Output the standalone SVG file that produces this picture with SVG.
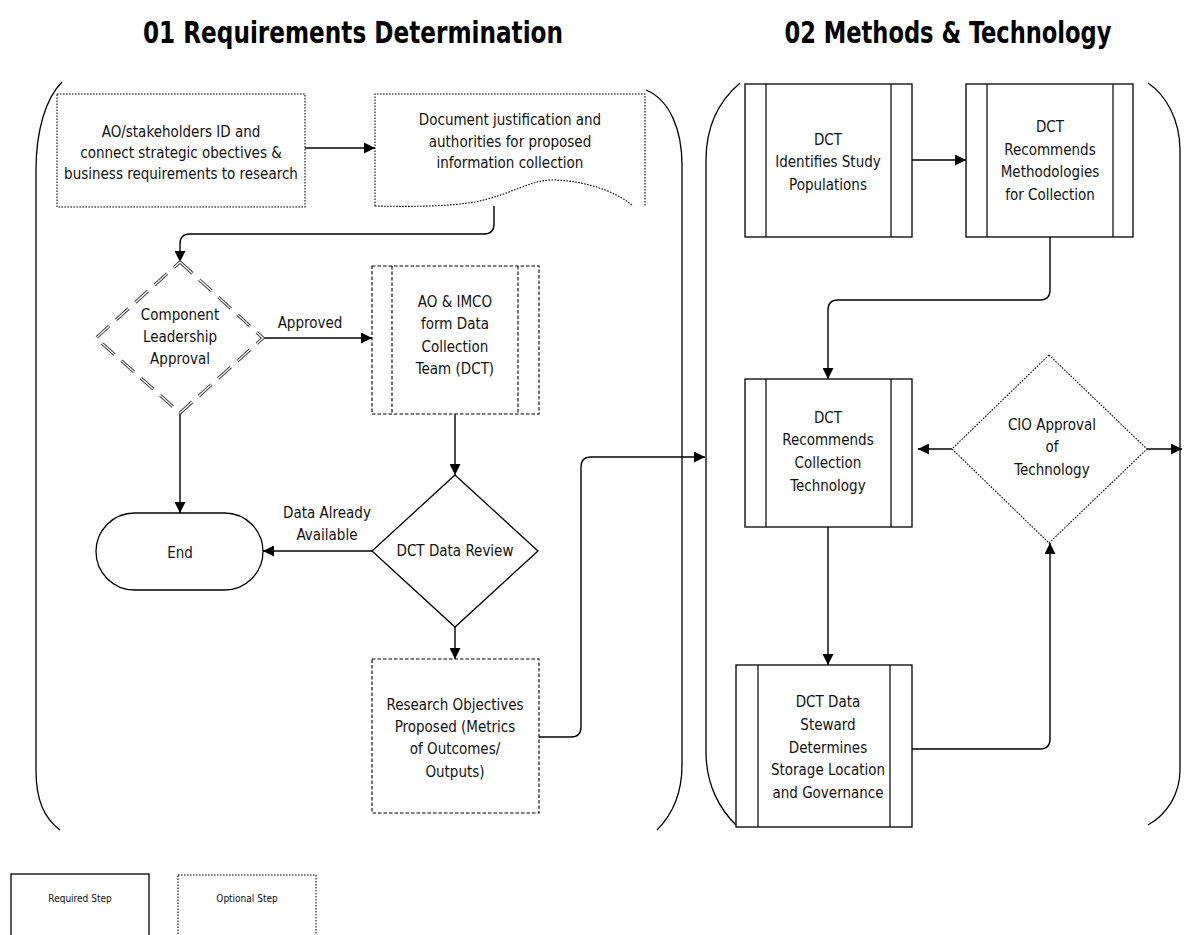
<svg xmlns="http://www.w3.org/2000/svg" width="1184" height="935" viewBox="0 0 1184 935">
<style>
.t{font-family:"Liberation Sans Narrow","DejaVu Sans Condensed","Liberation Sans",sans-serif;font-size:15px;text-anchor:middle;fill:#111}
.h{font-weight:bold;font-size:30px;fill:#000}
.lg{font-size:10px}
.solid{fill:#fff;stroke:#000;stroke-width:1.3}
.dot{fill:#fff;stroke:#000;stroke-width:1.1;stroke-dasharray:1.6 1.4}
.dash{fill:#fff;stroke:#000;stroke-width:1.1;stroke-dasharray:3.5 2}
.ln{fill:none;stroke:#000;stroke-width:1.2}
.conn{fill:none;stroke:#000;stroke-width:1.4}
.br{fill:none;stroke:#000;stroke-width:1.3}
</style>
<defs>
<marker id="ah" viewBox="0 0 10 10" refX="10" refY="5" markerWidth="11" markerHeight="11" markerUnits="userSpaceOnUse" orient="auto">
<path d="M0,0 L10,5 L0,10 z" fill="#000"/>
</marker>
</defs>

<g id="titles">
<text class="t h" x="353" y="43" textLength="420" lengthAdjust="spacingAndGlyphs">01 Requirements Determination</text>
<text class="t h" x="948" y="43" textLength="327" lengthAdjust="spacingAndGlyphs">02 Methods &amp; Technology</text>
</g>

<g id="panels">
<path class="br" d="M62,82 C46,98 36,130 36,170 V770 C36,800 44,818 60,830"/>
<path class="br" d="M646,90 C670,100 682,130 682,165 V765 C682,795 672,815 657,830"/>
<path class="br" d="M740,83 C720,100 706,125 706,160 V752 C706,785 720,810 737,826"/>
<path class="br" d="M1148,83 C1166,95 1180,120 1180,150 V770 C1180,795 1166,815 1148,825"/>
</g>

<g id="connectors">
<path class="conn" d="M305,148 H375" marker-end="url(#ah)"/>
<path class="conn" d="M494,198 V224 Q494,234 484,234 H190 Q180,234 180,244 V262" marker-end="url(#ah)"/>
<path class="conn" d="M263,338 H372" marker-end="url(#ah)"/>
<path class="conn" d="M180,413 V513" marker-end="url(#ah)"/>
<path class="conn" d="M455,414 V475" marker-end="url(#ah)"/>
<path class="conn" d="M372,551 H263" marker-end="url(#ah)"/>
<path class="conn" d="M455,627 V659" marker-end="url(#ah)"/>
<path class="conn" d="M539,737 H571 Q581,737 581,727 V467 Q581,457 591,457 H705" marker-end="url(#ah)"/>
<path class="conn" d="M912,160 H966" marker-end="url(#ah)"/>
<path class="conn" d="M1050,237 V290 Q1050,300 1040,300 H838 Q828,300 828,310 V379" marker-end="url(#ah)"/>
<path class="conn" d="M952,449 H918" marker-end="url(#ah)"/>
<path class="conn" d="M1147,449 H1182" marker-end="url(#ah)"/>
<path class="conn" d="M828,527 V665" marker-end="url(#ah)"/>
<path class="conn" d="M912,749 H1040 Q1050,749 1050,739 V543" marker-end="url(#ah)"/>
<text class="t" x="310" y="328">Approved</text>
<text class="t" x="327" y="518">Data Already</text>
<text class="t" x="327" y="540">Available</text>
</g>

<g id="n-ao-stakeholders">
<rect class="dot" x="57" y="94" width="248" height="113"/>
<text class="t" x="181" y="137">AO/stakeholders ID and</text>
<text class="t" x="181" y="158">connect strategic obectives &amp;</text>
<text class="t" x="181" y="179">business requirements to research</text>
</g>

<g id="n-document">
<path d="M375,94 H645 V206 H633 C615,190 580,180 552,180 C530,180 510,195 475,202 C450,206 420,207 375,206 Z" fill="#fff" stroke="none"/>
<path class="dot" d="M375,206 V94 H645 V206" fill="none"/>
<path class="dot" d="M375,206 C420,207 450,206 475,202 C510,195 530,180 552,180 C580,180 615,190 633,206" fill="none"/>
<text class="t" x="510" y="125">Document justification and</text>
<text class="t" x="510" y="147">authorities for proposed</text>
<text class="t" x="510" y="168">information collection</text>
</g>

<g id="n-leadership">
<polygon points="180,262 263,338 180,413 96,338" fill="#fff" stroke="#444" stroke-width="3.2" stroke-dasharray="17 9"/>
<polygon points="180,262 263,338 180,413 96,338" fill="none" stroke="#fff" stroke-width="1.2" stroke-dasharray="17 9"/>
<text class="t" x="180" y="320">Component</text>
<text class="t" x="180" y="342">Leadership</text>
<text class="t" x="180" y="364">Approval</text>
</g>

<g id="n-ao-imco">
<rect class="dash" x="372" y="266" width="167" height="148"/>
<path class="dash" d="M392,266 V414 M518,266 V414" fill="none"/>
<text class="t" x="455" y="307">AO &amp; IMCO</text>
<text class="t" x="455" y="329">form Data</text>
<text class="t" x="455" y="352">Collection</text>
<text class="t" x="455" y="374">Team (DCT)</text>
</g>

<g id="n-end">
<rect class="solid" x="96" y="513" width="167" height="77" rx="38.5"/>
<text class="t" x="180" y="558">End</text>
</g>

<g id="n-data-review">
<polygon class="solid" points="455,475 538,551 455,627 372,551"/>
<text class="t" x="455" y="556">DCT Data Review</text>
</g>

<g id="n-research">
<rect class="dash" x="372" y="659" width="167" height="154"/>
<text class="t" x="455" y="710">Research Objectives</text>
<text class="t" x="455" y="732">Proposed (Metrics</text>
<text class="t" x="455" y="754">of Outcomes/</text>
<text class="t" x="455" y="777">Outputs)</text>
</g>

<g id="n-study-pop">
<rect class="solid" x="745" y="84" width="167" height="153"/>
<path class="ln" d="M766,84 V237 M891,84 V237"/>
<text class="t" x="828" y="145">DCT</text>
<text class="t" x="828" y="167">Identifies Study</text>
<text class="t" x="828" y="190">Populations</text>
</g>

<g id="n-methodologies">
<rect class="solid" x="966" y="84" width="167" height="153"/>
<path class="ln" d="M987,84 V237 M1113,84 V237"/>
<text class="t" x="1050" y="132">DCT</text>
<text class="t" x="1050" y="155">Recommends</text>
<text class="t" x="1050" y="177">Methodologies</text>
<text class="t" x="1050" y="200">for Collection</text>
</g>

<g id="n-collection-tech">
<rect class="solid" x="745" y="379" width="167" height="148"/>
<path class="ln" d="M766,379 V527 M891,379 V527"/>
<text class="t" x="828" y="423">DCT</text>
<text class="t" x="828" y="445">Recommends</text>
<text class="t" x="828" y="468">Collection</text>
<text class="t" x="828" y="491">Technology</text>
</g>

<g id="n-cio">
<polygon class="dot" points="1049,355 1147,449 1049,543 952,449"/>
<text class="t" x="1052" y="430">CIO Approval</text>
<text class="t" x="1052" y="452">of</text>
<text class="t" x="1052" y="475">Technology</text>
</g>

<g id="n-steward">
<rect class="solid" x="736" y="665" width="176" height="162"/>
<path class="ln" d="M758,665 V827 M890,665 V827"/>
<text class="t" x="828" y="707">DCT Data</text>
<text class="t" x="828" y="730">Steward</text>
<text class="t" x="828" y="753">Determines</text>
<text class="t" x="828" y="775">Storage Location</text>
<text class="t" x="828" y="798">and Governance</text>
</g>

<g id="legend">
<rect class="solid" x="11" y="874" width="138" height="70"/>
<text class="t lg" x="80" y="902">Required Step</text>
<rect class="dot" x="178" y="875" width="138" height="70"/>
<text class="t lg" x="247" y="902">Optional Step</text>
</g>
</svg>
